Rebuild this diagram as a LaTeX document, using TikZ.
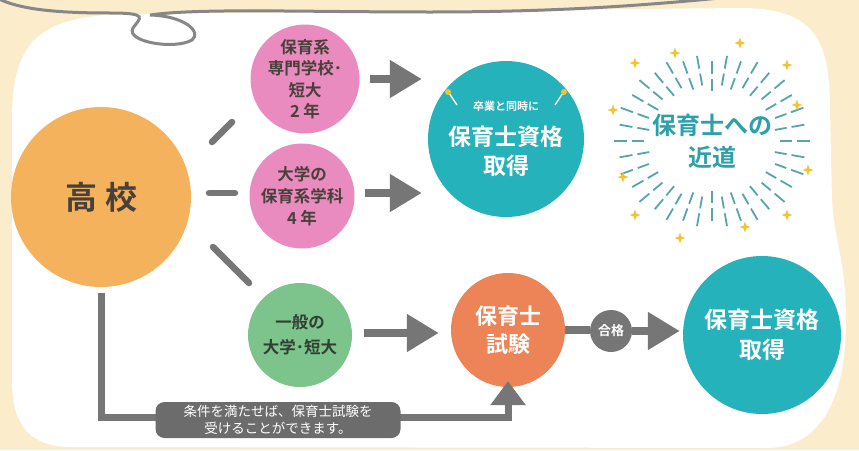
\documentclass[tikz,border=0pt]{standalone}
\usepackage{fontspec}
\setmainfont{Noto Sans CJK JP}[BoldFont={Noto Sans CJK JP Bold}]
\usetikzlibrary{arrows.meta,calc}
\definecolor{cream}{RGB}{251,236,203}
\definecolor{orangeA}{RGB}{245,178,92}
\definecolor{pinkA}{RGB}{233,139,190}
\definecolor{tealA}{RGB}{38,178,187}
\definecolor{greenA}{RGB}{124,196,140}
\definecolor{coralA}{RGB}{236,132,88}
\definecolor{arrgray}{RGB}{118,118,118}
\definecolor{boxgray}{RGB}{108,108,108}
\definecolor{strgray}{RGB}{135,135,135}
\definecolor{raycol}{RGB}{85,165,175}
\definecolor{sparkcol}{RGB}{245,196,45}
\definecolor{darktext}{RGB}{72,64,58}
\definecolor{greentext}{RGB}{50,62,50}
\definecolor{tealtext}{RGB}{45,160,170}
\begin{document}
\begin{tikzpicture}[x=1pt,y=-1pt,
  bub/.style={circle, inner sep=0pt, align=center, font=\bfseries},
  bigarrow/.style={draw=arrgray, line width=8pt, -{Triangle[length=32pt,width=36pt]}},
  seg/.style={draw=arrgray, line width=6.5pt, line cap=round},
  ray/.style={draw=raycol, line width=1.8pt},
  lbl/.style={fill=boxgray, rounded corners=9pt, minimum width=245pt, minimum height=36pt, align=center, text=white, inner sep=0pt}]
\useasboundingbox (0,0) rectangle (859,450);
% background
\fill[cream] (0,0) rectangle (859,450);
\fill[white] (12,120) .. controls (12,40) and (40,18) .. (120,14) -- (740,8)
  .. controls (815,8) and (830,40) .. (830,110) -- (832,200)
  .. controls (834,240) and (846,260) .. (846,320)
  .. controls (846,400) and (820,446) .. (770,448) -- (70,447)
  .. controls (25,446) and (12,420) .. (12,380) -- cycle;
% string
\draw[strgray, line width=3pt, line cap=round] (-3,-2) .. controls (20,10) and (60,13) .. (110,13)
  .. controls (150,13) and (140,18) .. (133,28)
  .. controls (125,42) and (175,50) .. (192,40)
  .. controls (202,32) and (185,16) .. (150,15)
  .. controls (200,8) and (300,12) .. (430,12)
  .. controls (560,12) and (650,5) .. (730,-3);
% nodes
\node[bub, fill=orangeA, minimum size=180pt, text=darktext, font=\bfseries\fontsize{32}{36}\selectfont] (hs) at (101,197) {高\hspace{0.25em}校};
\node[bub, fill=pinkA, minimum size=104pt, text=darktext, font=\bfseries\fontsize{16.5}{21.5}\selectfont] (p1) at (305,79) {保育系\\専門学校･\\短大\\2 年};
\node[bub, fill=pinkA, minimum size=105pt, text=darktext, font=\bfseries\fontsize{16.5}{22}\selectfont] (p2) at (302,196) {大学の\\保育系学科\\4 年};
\node[bub, fill=greenA, minimum size=104pt, text=greentext, font=\bfseries\fontsize{16.5}{25}\selectfont] (g) at (300,335) {一般の\\大学･短大};
\node[bub, fill=tealA, minimum size=156pt, text=white, font=\bfseries\fontsize{23}{29}\selectfont] (t1) at (506,139) {\fontsize{11}{14}\selectfont 卒業と同時に\\[6pt]\fontsize{23}{29}\selectfont 保育士資格\\\fontsize{23}{29}\selectfont 取得};
\node[bub, fill=coralA, minimum size=114pt, text=white, font=\bfseries\fontsize{22}{28}\selectfont] (exam) at (508,330) {保育士\\試験};
\node[bub, fill=arrgray, minimum size=42pt, text=white, font=\bfseries\fontsize{13}{15}\selectfont] (gk) at (611,331) {合格};
\node[bub, fill=tealA, minimum size=158pt, text=white, font=\bfseries\fontsize{23}{30}\selectfont] (t2) at (762,335) {保育士資格\\取得};
% decorations in t1
\draw[white, line width=1.3pt] ($(t1)+(-57,-46)$) -- ($(t1)+(-49,-34)$);
\fill[sparkcol] ($(t1)+(-58,-47)$) circle (3pt);
\draw[white, line width=1.3pt] ($(t1)+(57,-46)$) -- ($(t1)+(49,-34)$);
\fill[sparkcol] ($(t1)+(58,-47)$) circle (3pt);
% burst
\coordinate (burst) at (712,141);
\foreach \a [count=\i] in {0,10,...,350}{
  \pgfmathsetmacro\ra{50+14*abs(cos(\a))+4*mod(\i,2)}
  \pgfmathsetmacro\rb{\ra+12}
  \pgfmathsetmacro\rc{\ra+17}
  \pgfmathsetmacro\rd{\ra+30}
  \draw[ray] ($(burst)+(\a:\ra)$) -- ($(burst)+(\a:\rb)$);
  \draw[ray] ($(burst)+(\a:\rc)$) -- ($(burst)+(\a:\rd)$);
}
\foreach \px/\py in {28/-98,-37/-88,-77/-78,75/-76,85/-36,-99/-31,96/29,-89/36,75/74,-77/74,33/86,-32/97}{
  \fill[sparkcol] ($(burst)+(\px,\py)$) ++(0,-5.5) -- ++(1.4,4.1) -- ++(4.1,1.4) -- ++(-4.1,1.4) -- ++(-1.4,4.1) -- ++(-1.4,-4.1) -- ++(-4.1,-1.4) -- ++(4.1,-1.4) -- cycle;
}
\node[align=center, text=tealtext, font=\bfseries\fontsize{24}{32}\selectfont, inner sep=0pt] (near) at (burst) {保育士への\\近道};
% connectors from 高校
\draw[seg] ($(hs)+(111,-55)$) -- ($(hs)+(131,-75)$);
\draw[seg] ($(hs)+(108,-4)$) -- ($(hs)+(134,-4)$);
\draw[seg] ($(hs)+(112,50)$) -- ($(hs)+(148,86)$);
% arrows
\draw[bigarrow, shorten <=10pt, shorten >=6pt] (p1.east) -- (p1.east -| t1.west);
\draw[bigarrow, shorten <=10pt, shorten >=6pt] ($(p2.east)+(0,-3)$) -- ($(p2.east -| t1.west)+(0,-3)$);
\draw[bigarrow, shorten <=12pt, shorten >=12pt] ($(g.east)+(0,-2)$) -- ($(g.east -| exam.west)+(0,-2)$);
\draw[draw=arrgray, line width=8pt] (exam.east) -- (exam.east -| gk.west);
\draw[bigarrow, shorten >=3pt] (gk.east) -- (gk.east -| t2.west);
% bottom path
\coordinate (turn) at ($(exam.south)+(0,30)$);
\draw[draw=arrgray, line width=7pt, shorten <=6pt, shorten >=-6pt, -{Triangle[length=24pt,width=34pt]}] (hs.south) |- (turn) -- (exam.south);
\node[lbl, font=\fontsize{13.5}{17}\selectfont] (cond) at (278,420) {条件を満たせば、保育士試験を\\受けることができます。};
\end{tikzpicture}
\end{document}
